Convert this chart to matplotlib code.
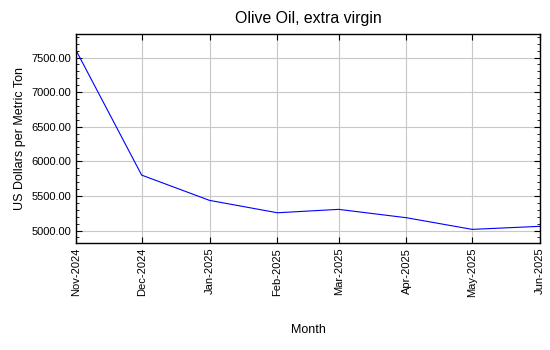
import matplotlib
matplotlib.use("Agg")
import matplotlib.pyplot as plt
from matplotlib.ticker import MultipleLocator, FormatStrFormatter
import datetime as dt

plt.rcParams['font.family'] = ['Liberation Sans', 'DejaVu Sans']

months = ["2024-11-01", "2024-12-01", "2025-01-01", "2025-02-01",
          "2025-03-01", "2025-04-01", "2025-05-01", "2025-06-01"]
tick_labels = ["Nov-2024", "Dec-2024", "Jan-2025", "Feb-2025",
               "Mar-2025", "Apr-2025", "May-2025", "Jun-2025"]
prices = [7605, 5801, 5436, 5257, 5306, 5185, 5017, 5061]

dates = [dt.datetime.strptime(m, "%Y-%m-%d") for m in months]

fig = plt.figure(figsize=(5.5, 3.5), dpi=100)
ax = fig.add_axes([76/550, 1-243/350, (540-76)/550, (243-34)/350])

ax.plot(dates, prices, color='blue', linewidth=0.8)

ax.set_xlim(dates[0], dates[-1])
ax.set_ylim(4820, 7840)
ax.set_xticks(dates)
ax.set_xticklabels(tick_labels, rotation=90, fontsize=8)
ax.yaxis.set_major_locator(MultipleLocator(500))
ax.yaxis.set_minor_locator(MultipleLocator(100))
ax.yaxis.set_major_formatter(FormatStrFormatter('%.2f'))
ax.tick_params(axis='y', labelsize=8)
ax.tick_params(which='both', direction='in', top=True, right=True)
ax.tick_params(which='major', length=4)
ax.tick_params(which='minor', length=2)
ax.grid(True, which='major', color='#c8c8c8', linewidth=0.8)
for s in ax.spines.values():
    s.set_linewidth(1.0)

ax.set_title("Olive Oil, extra virgin", fontsize=11.4, pad=8)
ax.set_ylabel("US Dollars per Metric Ton", fontsize=9)
ax.set_xlabel("Month", fontsize=9, labelpad=19)

fig.savefig("out.png", dpi=100)
